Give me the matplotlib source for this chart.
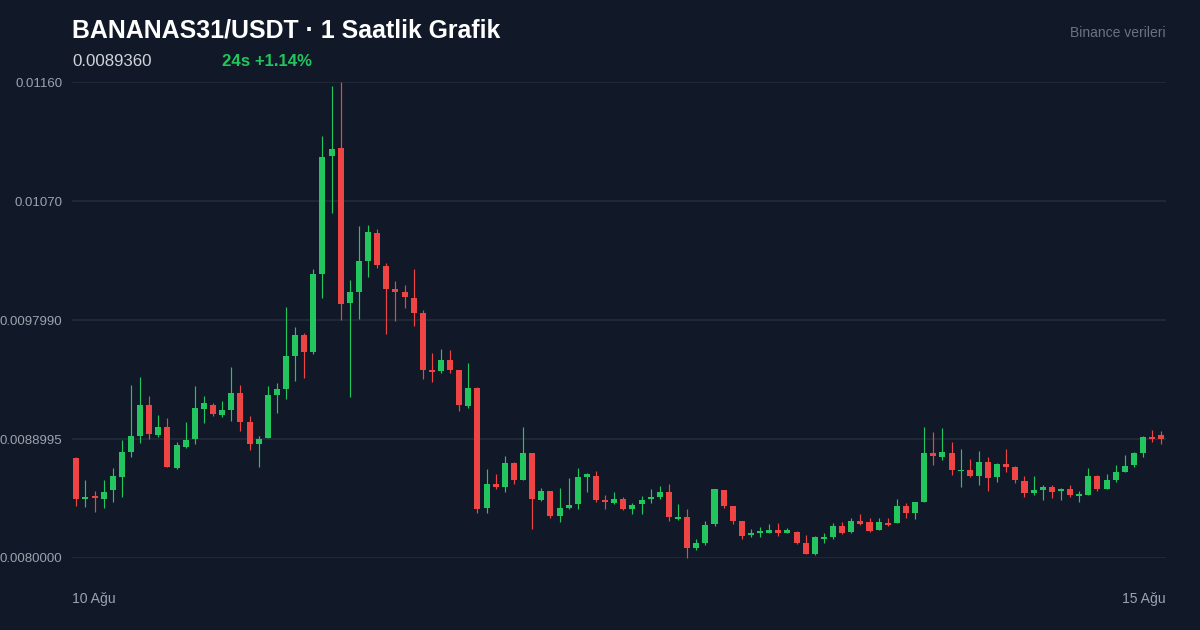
import matplotlib
matplotlib.use("Agg")
import matplotlib.pyplot as plt
import numpy as np

# 1h candles, BANANAS31/USDT
opens = [0.0087563, 0.0084500, 0.0084689, 0.0084462, 0.0085143, 0.0086149, 0.0088017, 0.0089227, 0.0091571, 0.0089302,
         0.0089908, 0.0086807, 0.0088395, 0.0089000, 0.0091269, 0.0091571, 0.0090838, 0.0091193, 0.0092479, 0.0090286,
         0.0088622, 0.0089076, 0.0092328, 0.0092781, 0.0095277, 0.0096865, 0.0095580, 0.0101479, 0.0110403, 0.0111008,
         0.0099286, 0.0100118, 0.0102462, 0.0104580, 0.0102084, 0.0100344, 0.0100118, 0.0099664, 0.0098529, 0.0094218,
         0.0094143, 0.0094975, 0.0094218, 0.0091496, 0.0092857, 0.0083782, 0.0085597, 0.0085370, 0.0087185, 0.0085899,
         0.0087941, 0.0084387, 0.0085067, 0.0083176, 0.0083782, 0.0084084, 0.0086126, 0.0086202, 0.0084387, 0.0084182,
         0.0084462, 0.0083706, 0.0084084, 0.0084462, 0.0084613, 0.0084992, 0.0082950, 0.0083101, 0.0080756, 0.0081134,
         0.0082571, 0.0085143, 0.0083933, 0.0082798, 0.0081717, 0.0081891, 0.0081913, 0.0082118, 0.0081891, 0.0081989,
         0.0081134, 0.0080325, 0.0081460, 0.0081611, 0.0082420, 0.0081966, 0.0082798, 0.0082745, 0.0082118, 0.0082647,
         0.0082670, 0.0083933, 0.0083426, 0.0084258, 0.0087941, 0.0087661, 0.0087964, 0.0086557, 0.0086655, 0.0086202,
         0.0087260, 0.0086103, 0.0087132, 0.0086882, 0.0085846, 0.0084916, 0.0085166, 0.0085392, 0.0085067, 0.0085218,
         0.0084712, 0.0084787, 0.0086179, 0.0085218, 0.0085899, 0.0086527, 0.0087034, 0.0087964, 0.0089174, 0.0089325]
highs = [0.0087639, 0.0085899, 0.0085067, 0.0085899, 0.0086807, 0.0088924, 0.0093084, 0.0093689, 0.0092252, 0.0090815,
         0.0090588, 0.0088773, 0.0090286, 0.0093008, 0.0092252, 0.0091723, 0.0091874, 0.0094445, 0.0093084, 0.0090739,
         0.0089227, 0.0093008, 0.0093235, 0.0098983, 0.0097471, 0.0097017, 0.0101857, 0.0111916, 0.0115697, 0.0116000,
         0.0101025, 0.0105109, 0.0105185, 0.0104882, 0.0102311, 0.0100950, 0.0100647, 0.0101857, 0.0098756, 0.0095504,
         0.0095807, 0.0095731, 0.0094250, 0.0094748, 0.0092900, 0.0086731, 0.0086353, 0.0087714, 0.0087260, 0.0089908,
         0.0087970, 0.0085294, 0.0085100, 0.0085294, 0.0086050, 0.0086807, 0.0086429, 0.0086580, 0.0084765, 0.0084992,
         0.0084613, 0.0084160, 0.0084689, 0.0085218, 0.0085445, 0.0085597, 0.0084084, 0.0083706, 0.0081437, 0.0082798,
         0.0085250, 0.0085170, 0.0083960, 0.0082830, 0.0082193, 0.0082345, 0.0082571, 0.0082647, 0.0082269, 0.0082042,
         0.0081739, 0.0081664, 0.0081891, 0.0082670, 0.0082723, 0.0083025, 0.0083328, 0.0083025, 0.0083025, 0.0083025,
         0.0084462, 0.0084160, 0.0084260, 0.0089930, 0.0089529, 0.0089832, 0.0088773, 0.0088244, 0.0087487, 0.0088115,
         0.0087639, 0.0087208, 0.0088266, 0.0086981, 0.0086202, 0.0086179, 0.0085544, 0.0085521, 0.0085294, 0.0085521,
         0.0085067, 0.0086829, 0.0086277, 0.0086353, 0.0087034, 0.0087790, 0.0088039, 0.0089227, 0.0089681, 0.0089628]
lows = [0.0083933, 0.0083857, 0.0083479, 0.0083782, 0.0084235, 0.0084613, 0.0087639, 0.0088697, 0.0089000, 0.0089151,
        0.0086850, 0.0086731, 0.0088350, 0.0088622, 0.0090210, 0.0090739, 0.0090664, 0.0090361, 0.0089605, 0.0088168,
        0.0086882, 0.0089050, 0.0090966, 0.0092025, 0.0093387, 0.0093613, 0.0095429, 0.0099664, 0.0106092, 0.0098000,
        0.0092176, 0.0098076, 0.0101252, 0.0101933, 0.0096941, 0.0097924, 0.0098908, 0.0097546, 0.0093538, 0.0093311,
        0.0093992, 0.0093992, 0.0091118, 0.0091345, 0.0083403, 0.0083403, 0.0085218, 0.0084992, 0.0085597, 0.0085870,
        0.0082193, 0.0084311, 0.0083025, 0.0082723, 0.0083706, 0.0083706, 0.0084992, 0.0084235, 0.0083706, 0.0084084,
        0.0083630, 0.0083328, 0.0083328, 0.0084160, 0.0084462, 0.0082798, 0.0082874, 0.0080000, 0.0080605, 0.0080983,
        0.0082420, 0.0083782, 0.0082571, 0.0081437, 0.0081588, 0.0081588, 0.0081891, 0.0081664, 0.0081860, 0.0081059,
        0.0080300, 0.0080250, 0.0081134, 0.0081460, 0.0081815, 0.0081913, 0.0082518, 0.0081966, 0.0082090, 0.0082420,
        0.0082647, 0.0083025, 0.0082950, 0.0084230, 0.0087034, 0.0087412, 0.0086277, 0.0085370, 0.0086126, 0.0085521,
        0.0085067, 0.0085771, 0.0086527, 0.0085650, 0.0084636, 0.0084787, 0.0084387, 0.0084560, 0.0084387, 0.0084636,
        0.0084213, 0.0084760, 0.0085090, 0.0085190, 0.0085748, 0.0086500, 0.0086905, 0.0087661, 0.0088796, 0.0088599]
closes = [0.0084462, 0.0084651, 0.0084538, 0.0084992, 0.0086202, 0.0088017, 0.0089227, 0.0091571, 0.0089378, 0.0089908,
          0.0086882, 0.0088546, 0.0088924, 0.0091345, 0.0091723, 0.0090891, 0.0091193, 0.0092479, 0.0090309, 0.0088622,
          0.0089023, 0.0092328, 0.0092781, 0.0095277, 0.0096865, 0.0095580, 0.0101479, 0.0110328, 0.0110933, 0.0099210,
          0.0100118, 0.0102462, 0.0104655, 0.0102160, 0.0100344, 0.0100118, 0.0099739, 0.0098529, 0.0094218, 0.0094067,
          0.0094975, 0.0094218, 0.0091571, 0.0092857, 0.0083706, 0.0085597, 0.0085370, 0.0087185, 0.0085899, 0.0087941,
          0.0084462, 0.0085067, 0.0083176, 0.0083782, 0.0084008, 0.0086126, 0.0086353, 0.0084387, 0.0084235, 0.0084462,
          0.0083706, 0.0084008, 0.0084387, 0.0084613, 0.0084992, 0.0083101, 0.0083101, 0.0080756, 0.0081134, 0.0082518,
          0.0085218, 0.0083955, 0.0082798, 0.0081664, 0.0081913, 0.0082042, 0.0082118, 0.0081913, 0.0082118, 0.0081134,
          0.0080325, 0.0081588, 0.0081588, 0.0082420, 0.0081913, 0.0082821, 0.0082594, 0.0082065, 0.0082723, 0.0082496,
          0.0083933, 0.0083403, 0.0084235, 0.0087964, 0.0087714, 0.0088017, 0.0086678, 0.0086655, 0.0086202, 0.0087260,
          0.0086050, 0.0087132, 0.0086905, 0.0085899, 0.0084916, 0.0085120, 0.0085347, 0.0085014, 0.0085196, 0.0084742,
          0.0084840, 0.0086224, 0.0085196, 0.0085876, 0.0086527, 0.0086981, 0.0087964, 0.0089151, 0.0089023, 0.0089023]

ytick_vals = [0.0080000, 0.0088995, 0.0097990, 0.0106985, 0.0115980]
ytick_labels = ["0.0080000", "0.0088995", "0.0097990", "0.01070", "0.01160"]
date_labels = ["10 Ağu", "15 Ağu"]

title = "BANANAS31/USDT · 1 Saatlik Grafik"
last_price = "0.0089360"
change_txt = "24s +1.14%"
source_txt = "Binance verileri"

BG = "#111827"
GRID = "#1f2937"
UP = "#22c55e"
DOWN = "#ef4444"
MUTED = "#9ca3af"

plt.rcParams['font.family'] = ['Liberation Sans', 'DejaVu Sans']


def main():
    o = np.array(opens)
    h = np.array(highs)
    lo = np.array(lows)
    c = np.array(closes)
    x = np.arange(len(o))
    colors = np.where(c >= o, UP, DOWN)

    fig = plt.figure(figsize=(12, 6.3), dpi=100, facecolor=BG)
    ax = fig.add_axes([72 / 1200, 72 / 630, 1094 / 1200, 476 / 630])
    ax.set_facecolor(BG)

    ax.vlines(x, lo, h, colors=colors, linewidth=0.85, clip_on=False, zorder=2)
    body_bottom = np.minimum(o, c)
    body_h = np.maximum(np.abs(c - o), 0.000011)
    ax.bar(x, body_h, bottom=body_bottom, width=0.66, color=colors,
           linewidth=0, clip_on=False, zorder=3)

    ax.set_xlim(-0.47, len(o) - 0.48)
    ax.set_ylim(0.0080000, 0.0116)
    ax.set_yticks(ytick_vals)
    ax.set_yticklabels(ytick_labels)
    ax.set_xticks([])
    ax.tick_params(axis='y', length=0, pad=7, labelsize=9.5, labelcolor=MUTED)
    ax.grid(True, axis='y', color=GRID, linewidth=1.4, zorder=0)
    ax.set_axisbelow(True)
    for s in ax.spines.values():
        s.set_visible(False)

    fig.text(72 / 1200, 1 - 30 / 630, title, color='white', fontsize=17.9,
             fontweight='bold', ha='left', va='center')
    fig.text(72 / 1200, 1 - 61 / 630, last_price, color='#d1d5db', fontsize=12.2,
             ha='left', va='center')
    fig.text(222 / 1200, 1 - 61 / 630, change_txt, color=UP, fontsize=12.1,
             fontweight='bold', ha='left', va='center')
    fig.text(1166 / 1200, 1 - 33 / 630, source_txt, color='#6b7280', fontsize=10,
             ha='right', va='center')
    fig.text(72 / 1200, 1 - 599 / 630, date_labels[0], color=MUTED, fontsize=10.1,
             ha='left', va='center')
    fig.text(1166 / 1200, 1 - 599 / 630, date_labels[1], color=MUTED, fontsize=10.1,
             ha='right', va='center')

    fig.savefig('out.png', dpi=100, facecolor=BG)
    plt.close(fig)


if __name__ == "__main__":
    main()
